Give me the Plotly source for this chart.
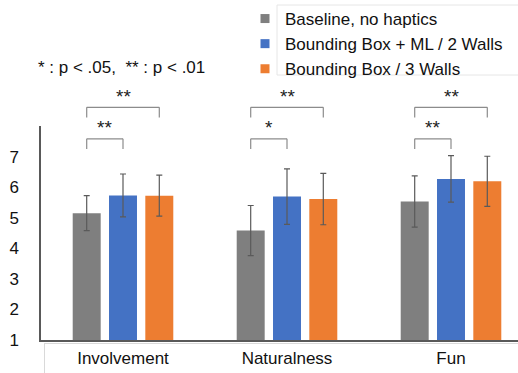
import plotly.graph_objects as go

categories = ["Involvement", "Naturalness", "Fun"]
series_names = ["Baseline, no haptics", "Bounding Box + ML / 2 Walls", "Bounding Box / 3 Walls"]
baseline = [5.15, 4.58, 5.53]
bbml = [5.73, 5.69, 6.27]
bb3 = [5.72, 5.61, 6.19]
baseline_err = [0.57, 0.82, 0.84]
bbml_err = [0.70, 0.91, 0.76]
bb3_err = [0.67, 0.84, 0.82]
colors = ["#7f7f7f", "#4472c4", "#ed7d31"]
y_ticks = [1, 2, 3, 4, 5, 6, 7]
# significance: (category index, series a, series b, label, level)
sig = [
    (0, 0, 1, "**", 0), (0, 0, 2, "**", 1),
    (1, 0, 1, "*", 0), (1, 0, 2, "**", 1),
    (2, 0, 1, "**", 0), (2, 0, 2, "**", 1),
]

W, H = 518, 373
ML, MR, MT, MB = 41, 0, 126, 33
PW = W - ML - MR
PH = H - MT - MB
CAT_PX = 164.0
X0 = -0.5
X1 = X0 + PW / CAT_PX
Y0, Y1 = 1, 8
BARGAP = 0.336
GROUPGAP = 0.229
slot = (1 - BARGAP) / 3

def xp(v):
    return (v - X0) / (X1 - X0)

def yp(v):
    return (v - Y0) / (Y1 - Y0)

def pxx(px):
    return (px - ML) / PW

def pxy(py):
    return (H - MB - py) / PH

fig = go.Figure()
vals = [baseline, bbml, bb3]
errs = [baseline_err, bbml_err, bb3_err]
for name, v, e, c in zip(series_names, vals, errs, colors):
    fig.add_trace(go.Bar(
        x=list(range(len(categories))), y=[val - Y0 for val in v], base=Y0, name=name,
        marker=dict(color=c, line=dict(width=0)),
        error_y=dict(type="data", array=e, color="#5a5a5a", thickness=1.2, width=3),
        showlegend=False,
    ))
    fig.add_trace(go.Scatter(
        x=[None], y=[None], mode="markers", name=name,
        marker=dict(symbol="square", size=9, color=c),
    ))

shapes = []
annotations = []
line_c = "#8c8c8c"
for ci, a, b, lab, lvl in sig:
    xa = ci + (a - 1) * slot
    xb = ci + (b - 1) * slot
    top = 7.58 if lvl == 0 else 8.61
    bot = top - 0.33
    for x_s, y_s, x_e, y_e in [(xa, bot, xa, top), (xa, top, xb, top), (xb, top, xb, bot)]:
        shapes.append(dict(type="line", xref="paper", yref="paper",
                           x0=xp(x_s), y0=yp(y_s), x1=xp(x_e), y1=yp(y_e),
                           line=dict(color=line_c, width=1.2)))
    annotations.append(dict(text=lab, xref="paper", yref="paper",
                            x=xp((xa + xb) / 2), y=yp(top + 0.36),
                            showarrow=False, xanchor="center", yanchor="middle",
                            font=dict(size=19, color="#222")))

# legend box
shapes.append(dict(type="rect", xref="paper", yref="paper",
                   x0=pxx(277), x1=pxx(530), y0=pxy(75), y1=pxy(5),
                   line=dict(color="#e6e6e6", width=1), fillcolor="white", layer="below"))
# bottom light border
shapes.append(dict(type="line", xref="paper", yref="paper",
                   x0=pxx(44), x1=pxx(520), y0=pxy(343.5), y1=pxy(343.5),
                   line=dict(color="#d9d9d9", width=1)))
shapes.append(dict(type="line", xref="paper", yref="paper",
                   x0=pxx(44.5), x1=pxx(44.5), y0=pxy(343.5), y1=pxy(380),
                   line=dict(color="#d9d9d9", width=1)))

annotations.append(dict(text="* : p < .05,  ** : p < .01", xref="paper", yref="paper",
                        x=pxx(36), y=pxy(67), xanchor="left", yanchor="middle",
                        showarrow=False, font=dict(size=17, color="#111")))

fig.update_layout(
    width=W, height=H,
    margin=dict(l=ML, r=MR, t=MT, b=MB),
    plot_bgcolor="white", paper_bgcolor="white",
    font=dict(family="Liberation Sans, Arial, sans-serif", size=17, color="#111"),
    barmode="group", bargap=BARGAP, bargroupgap=GROUPGAP,
    shapes=shapes, annotations=annotations,
    legend=dict(x=pxx(245), y=pxy(1), xanchor="left", yanchor="top",
                bgcolor="rgba(0,0,0,0)", font=dict(size=17), tracegroupgap=0,
                itemwidth=30),
    xaxis=dict(range=[X0, X1], tickvals=list(range(len(categories))), ticktext=categories,
               showline=True, linecolor="#595959", linewidth=1.5, showgrid=False,
               zeroline=False, ticks="outside", ticklen=2, tickcolor="rgba(0,0,0,0)"),
    yaxis=dict(range=[Y0, Y1], tickvals=y_ticks, showline=True, linecolor="#595959",
               linewidth=1.5, showgrid=False, zeroline=False, ticks="outside",
               ticklen=17, tickcolor="rgba(0,0,0,0)"),
)

fig.write_html("out.html", post_script="document.body.style.margin='0';",
               config={"displayModeBar": False})
